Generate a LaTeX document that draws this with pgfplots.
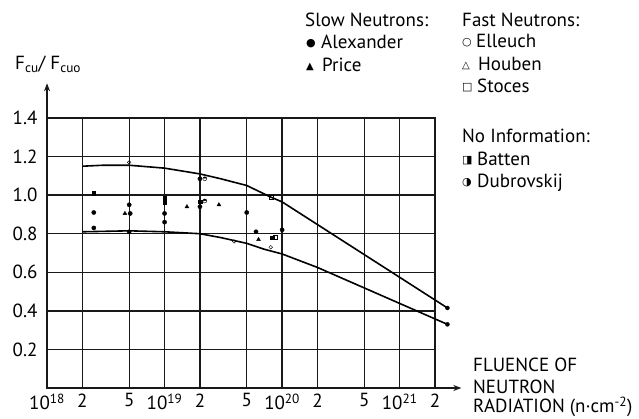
\documentclass[border=0pt]{standalone}
\usepackage{pgfplots}
\pgfplotsset{compat=1.18}
\usepackage{fontspec}
\setmainfont{PT Sans}
\newfontfamily\symfont{DejaVu Sans}
\usetikzlibrary{arrows.meta}
\newcommand\fs{\fontsize{19}{22}\selectfont}
\begin{document}
\begin{tikzpicture}[font=\fs]
\path[use as bounding box] (-47pt,-31pt) rectangle (592pt,388pt);
\begin{axis}[
  at={(0pt,0pt)}, anchor=south west,
  scale only axis, width=388pt, height=270pt,
  xmode=log, xmin=1e18, xmax=2e21, ymin=0, ymax=1.4,
  clip=false,
  axis line style={line width=1.3pt, black!90},
  grid=major,
  major grid style={line width=1.3pt, black!90},
  tick style={draw=none},
  xtick={1e18,2e18,5e18,1e19,2e19,5e19,1e20,2e20,5e20,1e21,2e21},
  xticklabels={10\textsuperscript{18},2,5,10\textsuperscript{19},2,5,10\textsuperscript{20},2,5,10\textsuperscript{21},2},
  ytick={0.2,0.4,0.6,0.8,1.0,1.2,1.4},
  yticklabels={0.2,0.4,0.6,0.8,1.0,1.2,1.4},
  tick label style={font=\fs},
  yticklabel style={xshift=-6pt},
  xticklabel style={yshift=-2pt},
]
% axes arrows
\addplot[line width=1.3pt, black!90, -{Stealth[length=8pt,width=6pt]}] coordinates {(1e18,0) (1e18,1.58)};
\addplot[line width=1.3pt, black!90, -{Stealth[length=8pt,width=6pt]}] coordinates {(1e18,0) (3.35e21,0)};
% upper curve
\addplot[line width=1.6pt, black] coordinates {
 (2e18,1.15) (3e18,1.155) (5e18,1.155) (1e19,1.14) (2e19,1.11) (3e19,1.085)
 (5e19,1.05) (8e19,0.99) (1e20,0.965) (2.55e21,0.415)};
% lower curve
\addplot[line width=1.6pt, black] coordinates {
 (2e18,0.81) (5e18,0.815) (1e19,0.81) (2e19,0.80) (3e19,0.78) (5e19,0.75)
 (7e19,0.72) (1e20,0.695) (2e20,0.625) (2.55e21,0.33)};
% curve end dots
\addplot[only marks, mark=*, mark size=2pt, black] coordinates {(2.55e21,0.415) (2.55e21,0.33)};
% Alexander
\addplot[only marks, mark=*, mark size=2.1pt, black] coordinates {
 (2.5e18,0.91) (2.5e18,0.83) (5e18,0.95) (5.1e18,0.905) (5e18,0.81)
 (1e19,0.905) (1e19,0.86) (2e19,0.94) (2e19,1.085) (5e19,0.91)
 (6e19,0.81) (1e20,0.82)};
% Batten
\addplot[only marks, mark=square*, mark size=1.8pt, black] coordinates {
 (2.5e18,1.01) (1e19,0.985) (1e19,0.96) (2e19,0.965) (8.2e19,0.78)};
% Price
\addplot[only marks, mark=triangle*, mark size=2.2pt, black] coordinates {
 (4.6e18,0.905) (1.55e19,0.94) (2.9e19,0.95) (6.3e19,0.77)};
% Dubrovskij
\addplot[only marks, mark=halfcircle*, mark size=2pt, black] coordinates {
 (2.2e19,0.97) (2.2e19,1.085)};
% Stoces
\addplot[only marks, mark=square, mark size=2pt, black] coordinates {
 (8e19,0.99) (8.7e19,0.78)};
% Elleuch
\addplot[only marks, mark=o, mark size=1.8pt, black] coordinates {
 (5e18,1.17) (3.9e19,0.76) (8e19,0.73)};
\end{axis}
\begin{scope}[every node/.style={inner sep=0pt, anchor=base west}]
\node at (258pt,361.3pt) {Slow Neutrons:};
\node at (259pt,341.5pt) {\symfont\fontsize{11}{11}\selectfont ●};
\node at (274pt,339.7pt) {Alexander};
\node at (259pt,318pt) {\symfont\fontsize{10}{10}\selectfont ▲};
\node at (275pt,316.3pt) {Price};
\node at (415pt,361.3pt) {Fast Neutrons:};
\node at (415pt,342pt) {\symfont\fontsize{11}{11}\selectfont ○};
\node at (429pt,340pt) {Elleuch};
\node at (415pt,319pt) {\symfont\fontsize{10}{10}\selectfont △};
\node at (431pt,317pt) {Houben};
\node at (415pt,297pt) {\symfont\fontsize{11}{11}\selectfont □};
\node at (430pt,295pt) {Stoces};
\node at (415pt,245pt) {No Information:};
\node at (415pt,224pt) {\symfont\fontsize{11}{11}\selectfont ◨};
\node at (430pt,222pt) {Batten};
\node at (415pt,202pt) {\symfont\fontsize{11}{11}\selectfont ◑};
\node at (430pt,200pt) {Dubrovskij};
\node at (-32pt,318pt) {F\textsubscript{cu}/ F\textsubscript{cuo}};
\node at (426pt,16pt) {FLUENCE OF};
\node at (426pt,-6pt) {NEUTRON};
\node at (426pt,-25pt) {RADIATION (n·cm\textsuperscript{-2})};
\end{scope}
\end{tikzpicture}
\end{document}
